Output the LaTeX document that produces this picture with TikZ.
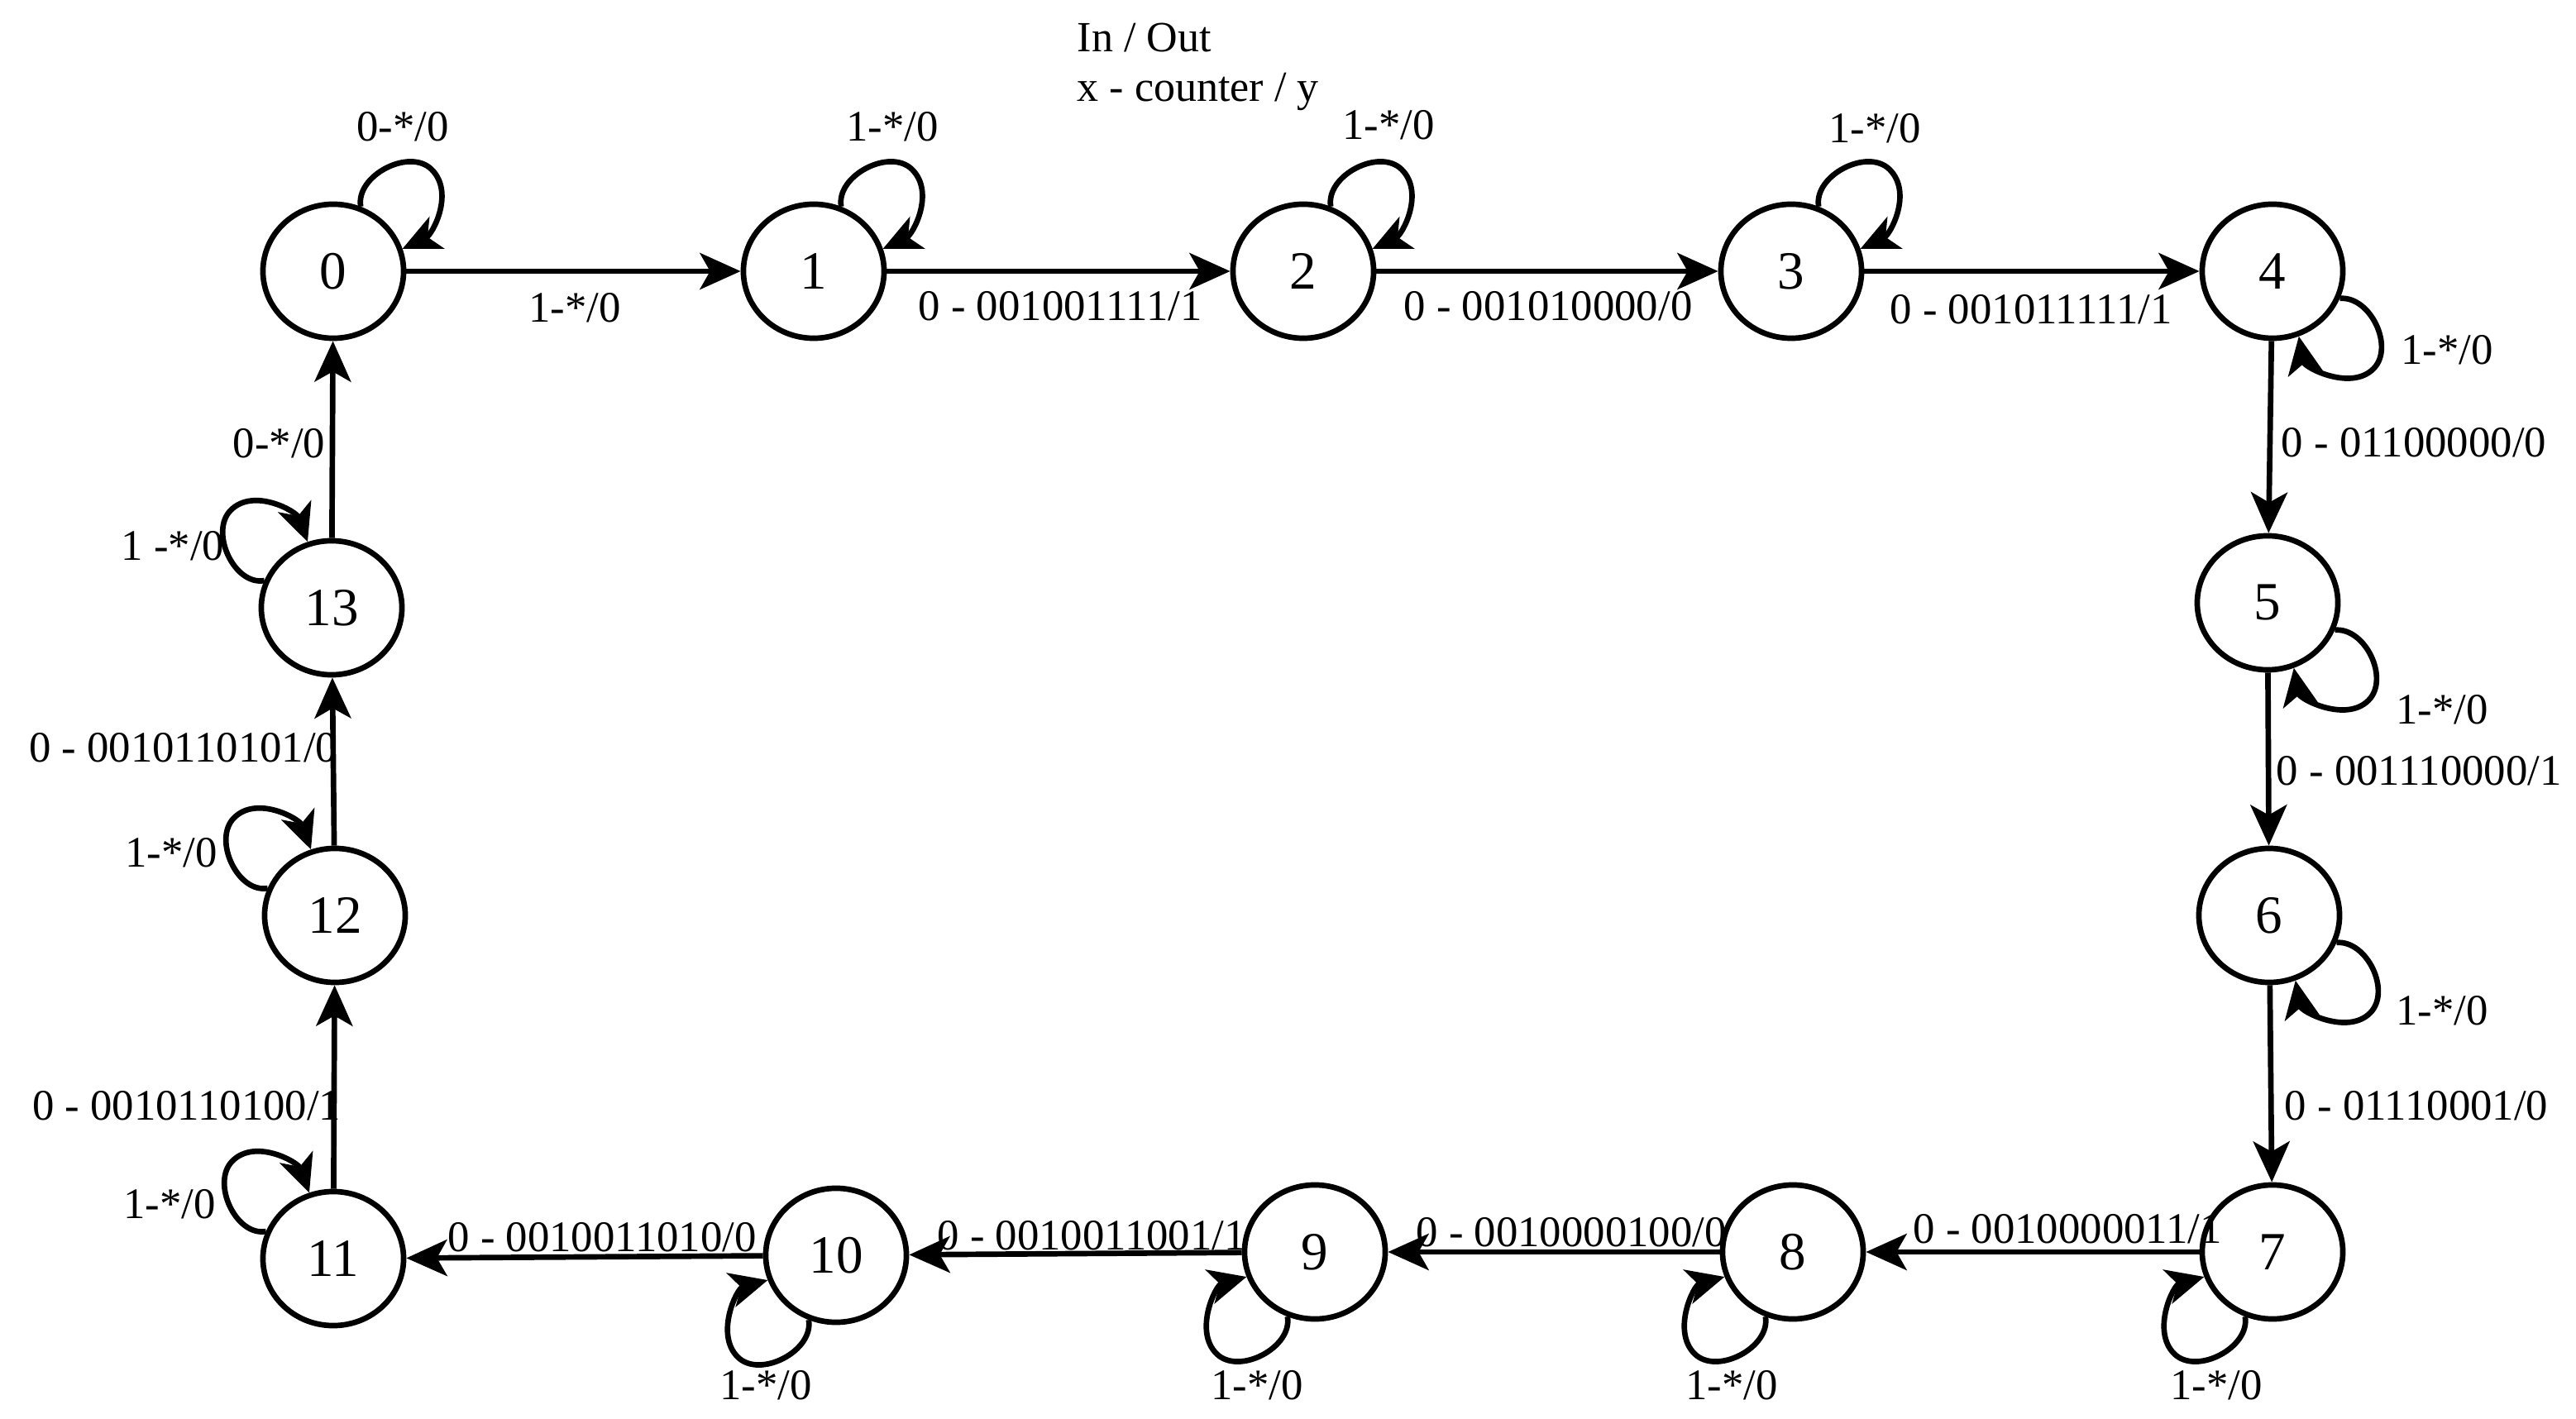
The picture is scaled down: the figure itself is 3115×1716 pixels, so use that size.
\documentclass[tikz,border=0pt]{standalone}
\usepackage{fontspec}
\setmainfont{Liberation Serif}
\usetikzlibrary{arrows.meta,shapes.geometric,calc}
\begin{document}
\begin{tikzpicture}[x=0.01cm,y=-0.01cm,
  state/.style={draw,ellipse,line width=1.9pt,minimum width=1.70cm,minimum height=1.62cm,inner sep=0pt,font=\fontsize{18.5}{20}\selectfont},
  arr/.style={line width=1.9pt,-{Stealth[length=14pt,width=12.5pt,inset=3.5pt]}},
  lp/.style={line width=1.9pt,-{Stealth[length=13pt,width=12pt,inset=3.5pt]}},
  lbl/.style={font=\fontsize{15}{17}\selectfont,inner sep=0pt},
  hdr/.style={font=\fontsize{14.8}{17}\selectfont,inner sep=0pt,anchor=west}]
\path[use as bounding box] (0,0) rectangle (3115,1716);
% header
\node[hdr] (h1) at (1302,46) {In / Out};
\node[hdr] (h2) at (1302,111) {x - counter / y};
% states
\node[state] (n0) at (403,328) {0};
\node[state] (n1) at (984,328) {1};
\node[state] (n2) at (1576,328) {2};
\node[state] (n3) at (2166,328) {3};
\node[state] (n4) at (2748,328) {4};
\node[state] (n5) at (2742,729) {5};
\node[state] (n6) at (2744,1107) {6};
\node[state] (n7) at (2748,1514) {7};
\node[state] (n8) at (2168,1514) {8};
\node[state] (n9) at (1590,1514) {9};
\node[state] (n10) at (1011,1518) {10};
\node[state] (n11) at (403,1522) {11};
\node[state] (n12) at (405,1107) {12};
\node[state] (n13) at (401,735) {13};
% transitions
\draw[arr] (n0) -- (n1);
\draw[arr] (n1) -- (n2);
\draw[arr] (n2) -- (n3);
\draw[arr] (n3) -- (n4);
\draw[arr] (n4) -- (n5);
\draw[arr] (n5) -- (n6);
\draw[arr] (n6) -- (n7);
\draw[arr] (n7) -- (n8);
\draw[arr] (n8) -- (n9);
\draw[arr] (n9) -- (n10);
\draw[arr] (n10) -- (n11);
\draw[arr] (n11) -- (n12);
\draw[arr] (n12) -- (n13);
\draw[arr] (n13) -- (n0);
% transition labels
\node[lbl] (l01) at (695,372) {1-*/0};
\node[lbl] (l12) at (1282,370) {0 - 001001111/1};
\node[lbl] (l23) at (1872,370) {0 - 001010000/0};
\node[lbl] (l34) at (2456,374) {0 - 001011111/1};
\node[lbl,anchor=west] (l45) at (2758,535) {0 - 01100000/0};
\node[lbl,anchor=west] (l56) at (2752,932) {0 - 001110000/1};
\node[lbl,anchor=west] (l67) at (2762,1337) {0 - 01110001/0};
\node[lbl] (l78) at (2500,1486) {0 - 0010000011/1};
\node[lbl] (l89) at (1900,1490) {0 - 0010000100/0};
\node[lbl] (l910) at (1320,1494) {0 - 0010011001/1};
\node[lbl] (l1011) at (728,1496) {0 - 0010011010/0};
\node[lbl,anchor=east] (l1112) at (413,1337) {0 - 0010110100/1};
\node[lbl,anchor=east] (l1213) at (409,904) {0 - 0010110101/0};
\node[lbl,anchor=east] (l130) at (394,536) {0-*/0};
% self loops
\foreach \n in {n0,n1,n2,n3}
  \draw[lp] (\n.67) to[out=100,in=135] ($(\n)+(119,-123)$) to[out=-45,in=25] (\n.18);
\foreach \n in {n4,n5,n6}
  \draw[lp] (\n.-22) to[out=5,in=45] ($(\n)+(122,118)$) to[out=-135,in=-80] (\n.-68);
\foreach \n in {n7,n8,n9,n10}
  \draw[lp] (\n.247) to[out=280,in=-45] ($(\n)+(-119,123)$) to[out=135,in=195] (\n.200);
\foreach \n in {n11,n12,n13}
  \draw[lp] (\n.158) to[out=190,in=225] ($(\n)+(-122,-118)$) to[out=45,in=110] (\n.110);
% loop labels
\node[lbl] (s0) at (487,153) {0-*/0};
\node[lbl] (s1) at (1079,153) {1-*/0};
\node[lbl] (s2) at (1679,151) {1-*/0};
\node[lbl] (s3) at (2267,155) {1-*/0};
\node[lbl] (s4) at (2959,423) {1-*/0};
\node[lbl] (s5) at (2953,858) {1-*/0};
\node[lbl] (s6) at (2953,1222) {1-*/0};
\node[lbl] (s7) at (2680,1675) {1-*/0};
\node[lbl] (s8) at (2094,1675) {1-*/0};
\node[lbl] (s9) at (1520,1675) {1-*/0};
\node[lbl] (s10) at (926,1675) {1-*/0};
\node[lbl] (s11) at (205,1456) {1-*/0};
\node[lbl] (s12) at (207,1031) {1-*/0};
\node[lbl] (s13) at (209,660) {1 -*/0};
\end{tikzpicture}
\end{document}
